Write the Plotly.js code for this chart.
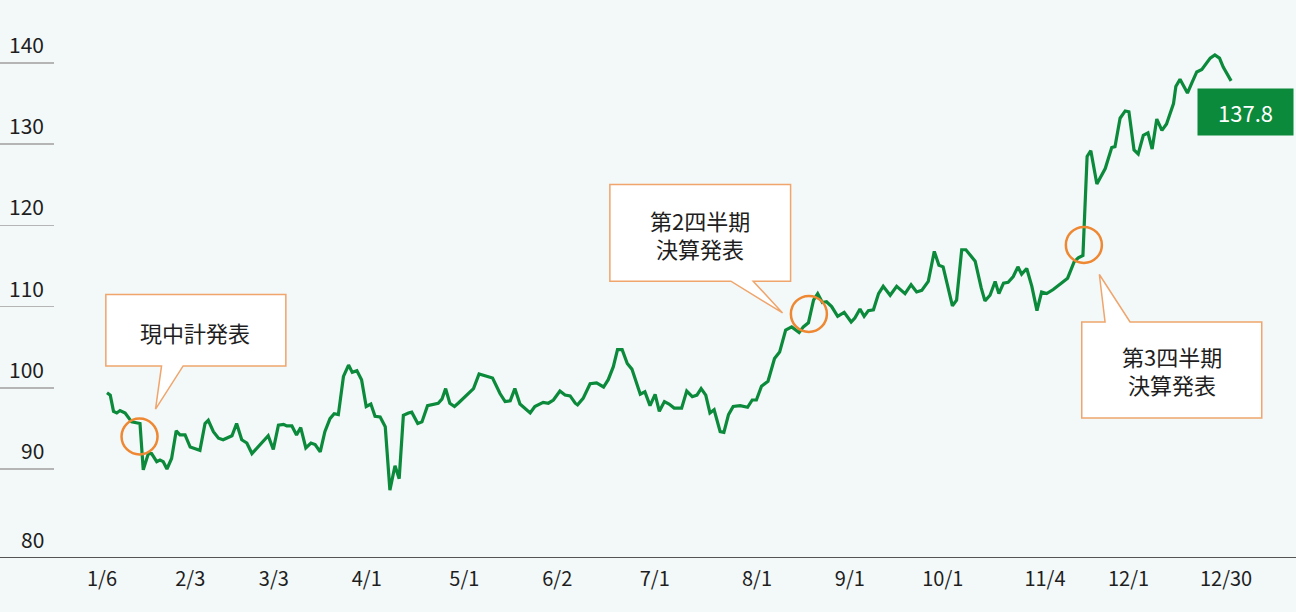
<!DOCTYPE html>
<html><head><meta charset="utf-8">
<script src="https://cdn.plot.ly/plotly-3.0.1.min.js"></script>
<style>html,body{margin:0;padding:0;background:#f3f8f8;} #chart{width:1296px;height:612px;}</style>
</head><body><div id="chart"></div>
<script>
// trading-day position (0 = 1/6) and price
const day = [
 0.0,0.7,1.4,2.1,2.8,3.9,5.3,6.6,7.1,7.8,8.2,8.9,9.6,10.7,11.4,12.1,12.9,13.9,14.9,15.7,16.8,17.9,19.0,20.0,21.1,21.8,22.9,24.0,25.0,26.9,27.9,29.0,30.1,31.2,
 34.7,35.8,36.9,38.0,38.7,39.8,40.8,41.7,42.8,43.9,44.8,45.9,46.9,48.0,48.9,49.8,50.9,52.0,52.8,53.8,54.8,55.8,56.8,57.7,58.8,59.9,60.9,62.0,62.9,63.8,64.9,65.6,66.9,67.8,
 69.0,70.2,71.3,72.1,72.9,73.8,74.8,75.6,78.9,80.1,81.4,83.0,84.6,85.7,86.8,87.8,88.9,90.0,91.1,92.1,93.9,95.0,96.1,97.5,98.6,99.7,100.8,
 101.3,102.5,104.0,105.4,106.9,107.9,109.0,109.9,110.9,112.0,113.0,113.8,114.8,115.8,116.9,118.0,118.9,120.0,121.0,122.1,123.7,124.8,126.0,127.0,127.9,128.9,129.8,130.7,132.0,132.8,133.8,134.8,136.3,
 137.9,138.9,139.8,140.9,142.3,143.7,144.8,146.1,147.4,149.0,149.9,151.0,152.1,153.0,154.0,154.9,156.0,157.3,158.7,160.2,161.0,162.1,163.0,163.9,165.0,166.1,167.1,168.6,170.0,171.8,
 173.1,174.3,175.4,176.8,178.1,179.1,180.0,182.0,182.9,184.0,184.9,186.9,188.2,189.0,190.1,191.2,192.0,193.0,194.0,195.1,196.1,196.9,198.0,199.1,200.2,201.2,202.3,203.7,
 205.5,206.8,208.2,209.1,210.1,211.0,211.8,213.1,214.9,216.3,217.0,218.1,219.2,220.0,221.1,222.0,223.1,224.1,225.0,226.0,227.1,228.1,
 229.6,230.1,231.0,231.9,232.6,233.5,234.6,235.7,236.7,237.5,238.5,239.5,240.3,241.1,242.0
];
const price = [
 99.4,99.1,97.1,96.9,97.2,96.9,95.8,95.7,95.6,89.9,90.7,91.9,91.9,90.9,91.1,90.9,90.0,91.3,94.7,94.2,94.2,92.7,92.5,92.3,95.6,96.0,94.6,93.8,93.6,94.1,95.6,93.6,93.2,91.9,
 94.1,92.4,95.4,95.5,95.3,95.3,94.2,95.1,92.6,93.2,93.0,92.1,94.6,96.2,96.8,96.7,101.4,102.8,101.9,102.1,101.0,97.7,98.0,96.5,96.4,95.2,87.4,90.4,88.8,96.6,96.9,97.0,95.6,95.8,
 97.8,98.0,98.1,98.6,99.9,98.1,97.7,98.1,99.9,101.7,101.5,101.2,99.3,98.3,98.4,99.9,98.0,97.5,96.9,97.7,98.2,98.1,98.5,99.6,99.1,99.0,98.1,
 97.9,98.7,100.5,100.6,100.1,101.0,102.6,104.7,104.7,103.0,102.3,100.8,99.2,99.5,97.8,99.2,97.1,98.3,98.0,97.5,97.5,99.6,98.9,99.1,99.9,99.1,96.9,97.3,94.6,94.5,96.7,97.7,97.8,
 97.6,98.5,98.5,100.2,100.8,103.6,104.4,107.1,107.5,106.8,107.5,108.0,110.8,111.6,110.5,110.6,110.0,108.8,109.3,108.1,108.6,109.7,108.8,109.5,109.6,111.6,112.5,111.4,112.5,111.6,
 112.7,111.8,112.0,113.1,116.8,115.1,114.9,110.1,110.8,117.0,117.0,115.6,112.3,110.7,111.4,113.1,111.6,112.9,113.0,113.7,114.9,114.0,114.7,112.5,109.5,111.8,111.6,112.1,
 112.9,113.5,115.5,116.0,116.3,128.5,129.2,125.1,127.0,129.6,129.7,133.2,134.1,134.0,129.3,128.8,131.1,131.4,129.4,133.1,131.7,132.5,
 135.0,137.1,138.0,137.1,136.3,137.5,138.9,139.2,140.0,140.6,141.0,140.6,139.5,138.7,137.8
];
const tickDay  = [0,19,37,57,78,98,119,141,161,181,203,221,242];
const tickText = ['1/6','2/3','3/3','4/1','5/1','6/2','7/1','8/1','9/1','10/1','11/4','12/1','12/30'];
const yTickVals = [80,90,100,110,120,130,140];

const eventText  = [['現中計発表'],['第2四半期','決算発表'],['第3四半期','決算発表']];
const eventDay   = [7.0,151.1,210.3];
const eventValue = [94.0,109.1,117.6];

// layout styling (pixel offsets of the callouts relative to the event circles)
const bubblePaths = [
  'M -33.7,70.6 L 22,70.6 L 16,27.3 L 43.6,70.6 L 146.3,70.6 L 146.3,142 L -33.7,142 Z',
  'M -199,32.7 L -78,32.7 L -26.3,1 L -55.7,32.7 L -18.3,32.7 L -18.3,129.4 L -199,129.4 Z',
  'M -2.1,-77 L 21.2,-77 L 15.5,-29.6 L 46.2,-77 L 177.9,-77 L 177.9,-173 L -2.1,-173 Z'
];
const bubbleText = [[55.3,104.3],[-109,79.7],[87.9,-124.8]];
const LINE_GAP = 28.4;

const FONT = '"Noto Sans CJK JP","Noto Sans",sans-serif';
const GREEN = '#0b8a3b';
const ORANGE = '#ee8833';
const BORDER = '#efa56c';
const BG = '#f3f8f8';

const shapes = [];
const annotations = [];
for (let i = 0; i < eventText.length; i++) {
  shapes.push({type:'path', xref:'x', yref:'y', xsizemode:'pixel', ysizemode:'pixel',
    xanchor:eventDay[i], yanchor:eventValue[i], path:bubblePaths[i],
    fillcolor:'#ffffff', line:{color:BORDER, width:1.5}, layer:'above'});
  shapes.push({type:'circle', xref:'x', yref:'y', xsizemode:'pixel', ysizemode:'pixel',
    xanchor:eventDay[i], yanchor:eventValue[i], x0:-18, x1:18, y0:-18, y1:18,
    line:{color:ORANGE, width:2.5}, fillcolor:'rgba(0,0,0,0)', layer:'above'});
  const lines = eventText[i];
  lines.forEach((t, k) => {
    const off = ((lines.length - 1) / 2 - k) * LINE_GAP;
    annotations.push({xref:'x', yref:'y', x:eventDay[i], y:eventValue[i],
      xshift:bubbleText[i][0], yshift:bubbleText[i][1] + off, showarrow:false,
      text:t, font:{family:FONT, size:22, color:'#1e1e1e'}, align:'center',
      borderpad:0, height:26, valign:'middle'});
  });
}
yTickVals.forEach(v => {
  annotations.push({xref:'paper', yref:'y', x:46/1296, y:v, xanchor:'right', yanchor:'middle',
    yshift: v === 80 ? 11 : 19, showarrow:false, text:String(v),
    font:{family:FONT, size:21, color:'#1e1e1e'}});
});
const last = day.length - 1;
annotations.push({xref:'x', yref:'y', x:day[last], y:price[last], xshift:14.5, yshift:-30.7,
  showarrow:false, text:price[last].toFixed(1), bgcolor:GREEN, width:95, height:46, borderpad:0,
  font:{family:FONT, size:22, color:'#ffffff'}});

const trace = {x:day, y:price, type:'scatter', mode:'lines',
  line:{color:GREEN, width:3.2, shape:'linear'}, hoverinfo:'skip'};

const layout = {
  width:1296, height:612,
  margin:{l:0, r:0, t:20, b:55},
  paper_bgcolor:BG, plot_bgcolor:BG,
  showlegend:false,
  font:{family:FONT},
  xaxis:{range:[-23.04,255.97], showgrid:false, zeroline:false, showline:true,
    linecolor:'#555', linewidth:1, tickmode:'array', tickvals:tickDay, ticktext:tickText,
    ticks:'', tickfont:{family:FONT, size:20, color:'#1e1e1e'}, ticklabelshift:-5, ticklabelstandoff:4},
  yaxis:{range:[79.16,145.3], showgrid:false, zeroline:false, showline:false,
    tickmode:'array', tickvals:yTickVals.filter(v => v > 80), ticks:'inside', ticklen:54,
    tickwidth:1.5, tickcolor:'#b5b5b5', showticklabels:false},
  shapes:shapes,
  annotations:annotations
};
Plotly.newPlot('chart', [trace], layout, {displayModeBar:false, staticPlot:true});
</script></body></html>
